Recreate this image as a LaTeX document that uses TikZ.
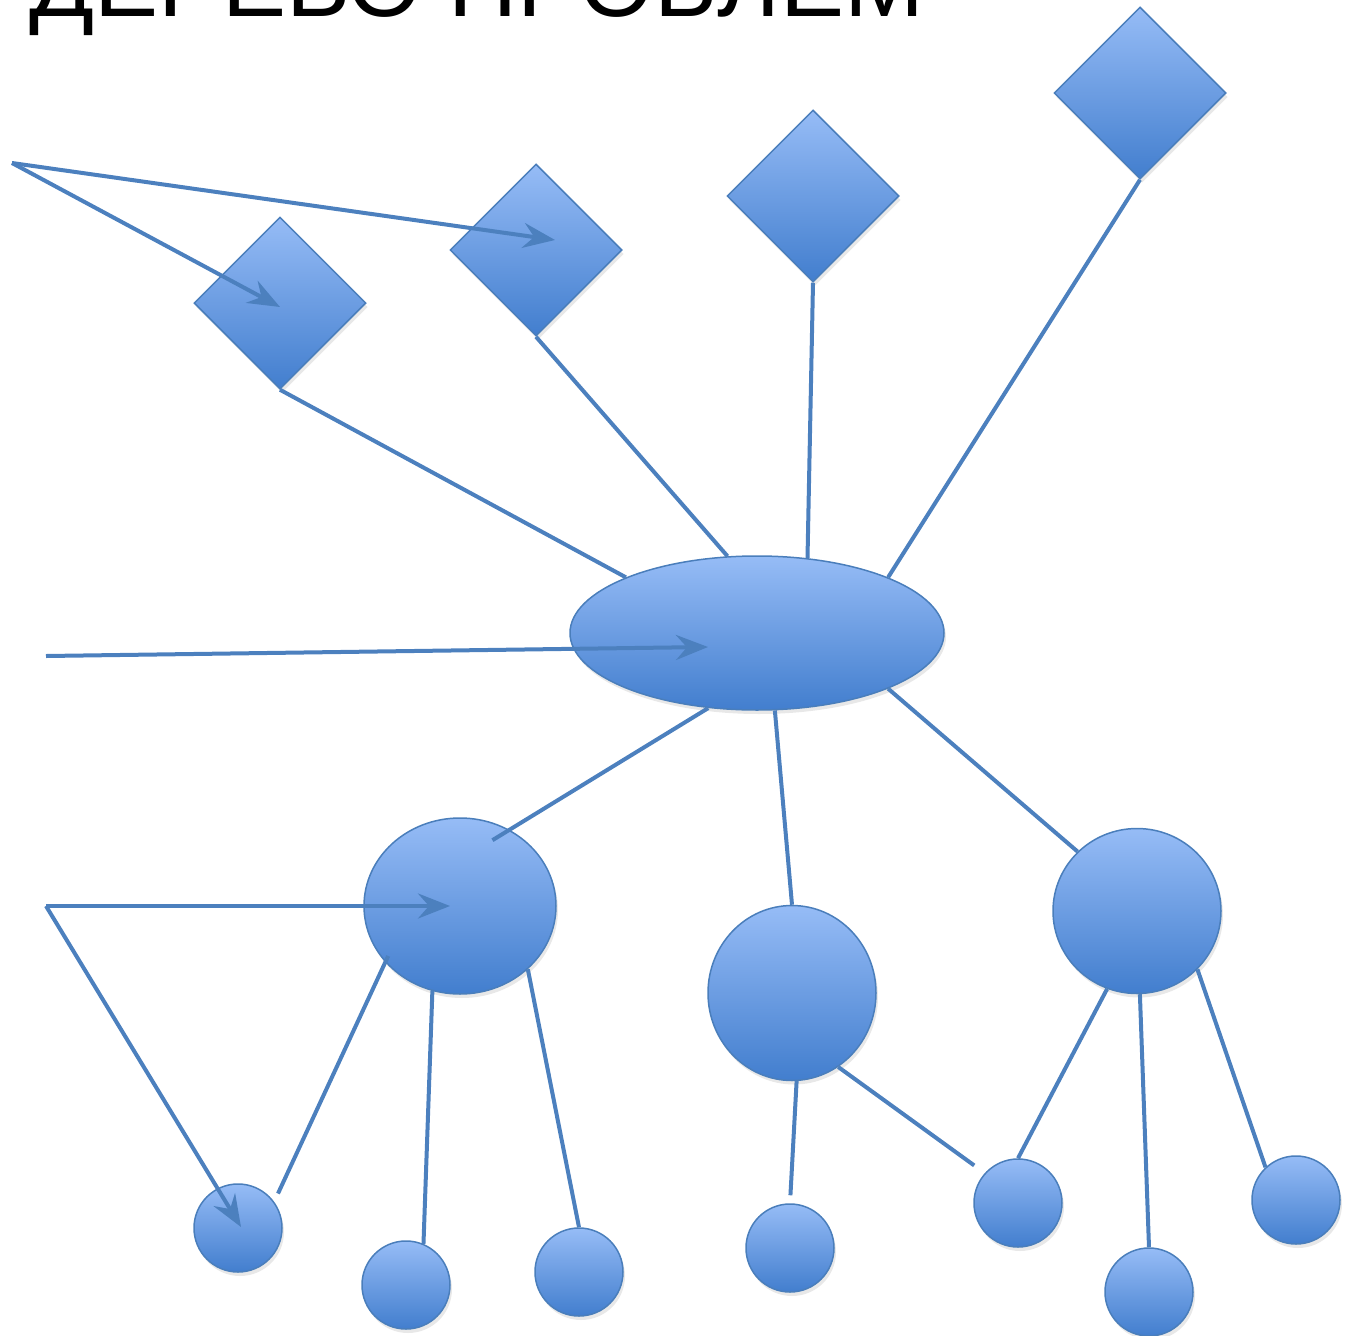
\documentclass[tikz,border=0pt]{standalone}
\usepackage{fontspec}
\setmainfont{Liberation Sans}
\usetikzlibrary{shapes.geometric,arrows.meta,shadows}

\definecolor{fillTop}{RGB}{150,188,246}
\definecolor{fillBot}{RGB}{66,126,206}
\definecolor{edgeBlue}{RGB}{74,126,187}
\definecolor{lineBlue}{RGB}{76,128,190}

\tikzset{
  blob/.style={draw=edgeBlue, line width=1.5pt, top color=fillTop, bottom color=fillBot,
    inner sep=0pt, drop shadow={opacity=0.18, shadow xshift=2pt, shadow yshift=-4pt}},
  cause/.style={blob, diamond, minimum width=172pt, minimum height=172pt},
  problem/.style={blob, ellipse, minimum width=374pt, minimum height=154pt},
  effect/.style={blob, ellipse},
  leaf/.style={blob, circle, minimum size=88pt},
  link/.style={lineBlue, line width=4pt},
  pointer/.style={lineBlue, line width=4pt, -{Stealth[length=32pt, width=25pt, inset=11pt]}}
}

\begin{document}
\begin{tikzpicture}[x=1pt, y=-1pt]
			\useasboundingbox (0,0) rectangle (1353,1336);
			\clip (0,0) rectangle (1353,1336);
			\node[anchor=base west, inner sep=0pt, font=\fontsize{96}{100}\selectfont] (title) at (29,16) {ДЕРЕВО ПРОБЛЕМ};

			% causes
			\node[cause] (d1) at (280,303) {};
			\node[cause] (d2) at (536,250) {};
			\node[cause] (d3) at (813,196) {};
			\node[cause] (d4) at (1140,93) {};

			% central problem
			\node[problem] (core) at (757,633) {};

			% effects
			\node[effect, minimum width=192pt, minimum height=176pt] (c1) at (460,906) {};
			\node[effect, minimum width=168pt, minimum height=175pt] (c2) at (792,993) {};
			\node[effect, minimum width=168pt, minimum height=165pt] (c3) at (1137,911) {};

			\node[leaf] (s1) at (238,1228) {};
			\node[leaf] (s2) at (406,1285) {};
			\node[leaf] (s3) at (579,1272) {};
			\node[leaf] (s4) at (790,1248) {};
			\node[leaf] (s5) at (1018,1203) {};
			\node[leaf] (s6) at (1149,1292) {};
			\node[leaf] (s7) at (1296,1200) {};

			% links
			\draw[link] (d1.south) -- (core.157);
			\draw[link] (d2.south) -- (core.111);
			\draw[link] (d3.south) -- (core.56);
			\draw[link] (d4.south) -- (core.23);

			\draw[link, shorten >=-20pt] (core.237) -- (c1.57);
			\draw[link] (core.283) -- (c2.north);
			\draw[link] (core.337) -- (c3.135);

			\draw[link, shorten <=-7pt, shorten >=9pt] (c1.217) -- (s1.36);
			\draw[link] (c1.252) -- (s2.67);
			\draw[link] (c1.317) -- (s3.north);

			\draw[link, shorten >=8pt] (c2.273) -- (s4.north);
			\draw[link, shorten >=13pt] (c2.302) -- (s5.138);

			\draw[link] (c3.249) -- (s5.north);
			\draw[link] (c3.272) -- (s6.north);
			\draw[link] (c3.316) -- (s7.133);

			% pointers
			\coordinate (p1) at (12,163);
			\coordinate (p2) at (46,656);
			\coordinate (p3) at (46,906);
			\draw[pointer] (p1) -- ([shift={(19,-10)}]d2.center);
			\draw[pointer] (p1) -- ([shift={(0,4)}]d1.center);
			\draw[pointer] (p2) -- ([shift={(-49,14)}]core.center);
			\draw[pointer] (p3) -- ([shift={(-10,0)}]c1.center);
			\draw[pointer] (p3) -- ([shift={(3,-1)}]s1.center);
		\end{tikzpicture}
\end{document}
